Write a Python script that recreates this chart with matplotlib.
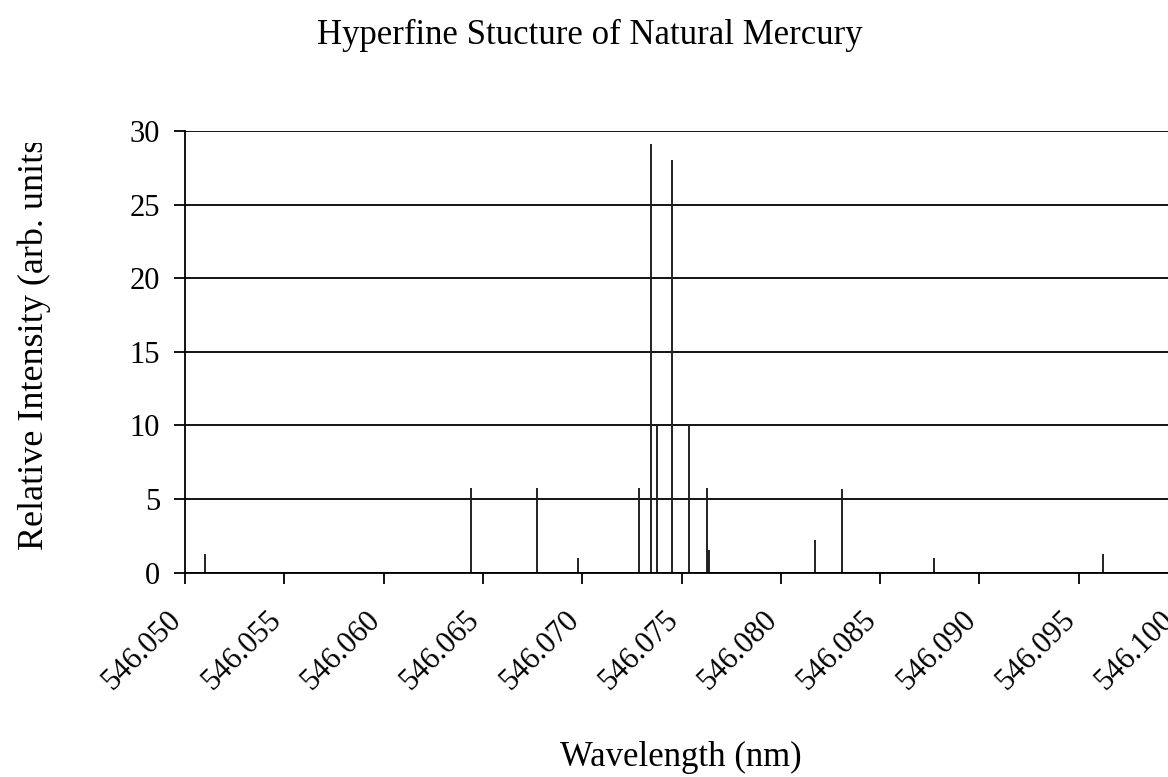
import numpy as np
import matplotlib
matplotlib.use('Agg')
import matplotlib.pyplot as plt
from matplotlib.transforms import Bbox, ScaledTranslation

# hyperfine components
wavelength = [546.0510, 546.0644, 546.0677, 546.0698, 546.07284, 546.07346,
              546.07375, 546.07454, 546.07538, 546.07628, 546.07633,
              546.07638, 546.0817, 546.0831, 546.0877, 546.0962]
intensity = [1.25, 5.75, 5.75, 1.0, 5.75, 29.15,
             10.05, 28.05, 10.05, 5.75, 1.5,
             1.5, 2.2, 5.65, 1.0, 1.25]

x_ticks = [546.050, 546.055, 546.060, 546.065, 546.070, 546.075,
           546.080, 546.085, 546.090, 546.095, 546.100]
y_ticks = [0, 5, 10, 15, 20, 25, 30]

plt.rcParams['font.family'] = 'Liberation Serif'
W, H = 1168, 777
fig = plt.figure(figsize=(W/100, H/100), dpi=100)

# plot area runs past the right edge, as in the original
left, right, bottom, top = 185, 1178, 572.5, 131
ax = fig.add_axes([left/W, (H-bottom)/H, (right-left)/W, (bottom-top)/H])

ax.vlines(wavelength, 0, intensity, colors='#222222', linewidth=1.4)

ax.set_xlim(546.050, 546.100)
ax.set_ylim(0, 30)
ax.set_xticks(x_ticks)
ax.set_xticklabels(['%.3f' % v for v in x_ticks], rotation=45,
                   ha='right', va='center', rotation_mode='anchor')
ax.set_yticks(y_ticks)
ax.yaxis.grid(True, color='black', linewidth=1.3)
ax.set_axisbelow(True)
for s in ['top', 'right']:
    ax.spines[s].set_visible(False)
for s in ['left', 'bottom']:
    ax.spines[s].set_linewidth(1.3)
ax.tick_params(axis='both', direction='out', length=8, width=1.3,
               labelsize=22, colors='black')
ax.tick_params(axis='x', pad=23)
ax.tick_params(axis='y', pad=10)

shift = ScaledTranslation(-0.08, 0, fig.dpi_scale_trans)
for lab in ax.get_xticklabels():
    lab.set_transform(lab.get_transform() + shift)

fig.text(590/W, 1 - 35/H, 'Hyperfine Stucture of Natural Mercury',
         ha='center', va='center', fontsize=25)
fig.text(681/W, 1 - 757/H, 'Wavelength (nm)', ha='center', va='center',
         fontsize=25)
ylab = fig.text(34/W, 1 - 550/H, 'Relative Intensity (arb. units)',
                rotation=90, rotation_mode='anchor', ha='left', va='center',
                fontsize=26)
ylab.set_clip_box(Bbox([[0, 0], [W, H - 143]]))
ylab.set_clip_on(True)

fig.savefig('out.png', dpi=100)
